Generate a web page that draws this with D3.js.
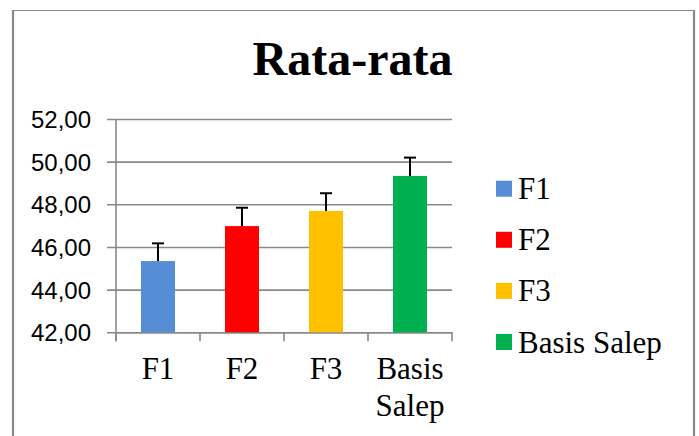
<!DOCTYPE html>
<html>
<head>
<meta charset="utf-8">
<script src="https://cdn.jsdelivr.net/npm/d3@7"></script>
<style>
  html, body { margin: 0; padding: 0; background: #fff; }
  svg { display: block; }
</style>
</head>
<body>
<svg id="chart" width="699" height="436"></svg>
<script>
const categories = ["F1", "F2", "F3", "Basis Salep"];
const axisLabels = [["F1"], ["F2"], ["F3"], ["Basis", "Salep"]];
const values = [45.34, 46.98, 47.69, 49.33];
const errors = [0.83, 0.86, 0.83, 0.86];
const colors = ["#558ED5", "#FF0000", "#FFC000", "#00B050"];
const yTicks = [42, 44, 46, 48, 50, 52];
const title = "Rata-rata";

const serif = "'Liberation Serif', 'Times New Roman', serif";
const sans = "'Liberation Sans', Arial, sans-serif";

const svg = d3.select("#chart");
const plot = { left: 116, right: 452, top: 119, bottom: 332.3 };
const gridColor = "#898989";

// outer border
svg.append("line").attr("x1", 12).attr("x2", 695).attr("y1", 10.5).attr("y2", 10.5)
  .attr("stroke", gridColor).attr("stroke-width", 1.2);
svg.append("line").attr("x1", 13).attr("x2", 13).attr("y1", 10).attr("y2", 436)
  .attr("stroke", gridColor).attr("stroke-width", 2.2);
svg.append("line").attr("x1", 694).attr("x2", 694).attr("y1", 10).attr("y2", 436)
  .attr("stroke", gridColor).attr("stroke-width", 2.2);

// title
svg.append("text")
  .attr("x", 352.5).attr("y", 75)
  .attr("text-anchor", "middle")
  .style("font-family", serif)
  .style("font-weight", "bold")
  .style("font-size", "48px")
  .text(title);

const x = d3.scaleBand().domain(categories).range([plot.left, plot.right]).paddingInner(0).paddingOuter(0);
const y = d3.scaleLinear().domain([42, 52]).range([plot.bottom, plot.top]);

// y axis with gridlines
const yAxis = d3.axisLeft(y)
  .tickValues(yTicks)
  .tickSize(-(plot.right - plot.left))
  .tickPadding(0)
  .tickFormat(d => d3.format(".2f")(d).replace(".", ","));
const gy = svg.append("g").attr("transform", `translate(${plot.left},0)`).call(yAxis);
gy.select(".domain").remove();
gy.selectAll(".tick line").attr("stroke", gridColor).attr("stroke-width", 1.6).attr("x1", -9);
gy.selectAll(".tick text")
  .attr("x", -25)
  .attr("dy", "0.35em")
  .attr("fill", "#000")
  .style("font-family", sans)
  .style("font-size", "24px");

// vertical axis line
svg.append("line").attr("x1", plot.left).attr("x2", plot.left)
  .attr("y1", plot.top).attr("y2", plot.bottom + 9)
  .attr("stroke", gridColor).attr("stroke-width", 1.6);

// x axis
const xAxis = d3.axisBottom(x).tickSize(0).tickFormat("");
const gx = svg.append("g").attr("transform", `translate(0,${plot.bottom})`).call(xAxis);
gx.select(".domain").attr("stroke", gridColor).attr("stroke-width", 1.6);
const boundaries = categories.map(c => x(c)).concat([x(categories[categories.length - 1]) + x.bandwidth()]);
gx.selectAll(".bound").data(boundaries).enter().append("line")
  .attr("x1", d => d).attr("x2", d => d).attr("y1", 0).attr("y2", 9)
  .attr("stroke", gridColor).attr("stroke-width", 1.6);

// x labels
categories.forEach((c, i) => {
  const t = svg.append("text")
    .attr("text-anchor", "middle")
    .style("font-family", serif)
    .style("font-size", "31px")
    .attr("fill", "#000");
  axisLabels[i].forEach((line, j) => {
    t.append("tspan").attr("x", x(c) + x.bandwidth() / 2).attr("y", 379 + j * 37).text(line);
  });
});

// bars
const barW = x.bandwidth() * 0.405;
svg.append("g").selectAll("rect").data(categories).enter().append("rect")
  .attr("x", c => x(c) + x.bandwidth() / 2 - barW / 2)
  .attr("width", barW)
  .attr("y", (c, i) => y(values[i]))
  .attr("height", (c, i) => y(42) - y(values[i]))
  .attr("fill", (c, i) => colors[i]);

// error bars (plus only)
const eg = svg.append("g");
categories.forEach((c, i) => {
  const cx = x(c) + x.bandwidth() / 2;
  eg.append("line").attr("x1", cx).attr("x2", cx)
    .attr("y1", y(values[i])).attr("y2", y(values[i] + errors[i]))
    .attr("stroke", "#000").attr("stroke-width", 2);
  eg.append("line").attr("x1", cx - 6).attr("x2", cx + 6)
    .attr("y1", y(values[i] + errors[i])).attr("y2", y(values[i] + errors[i]))
    .attr("stroke", "#000").attr("stroke-width", 2);
});

// legend
const lg = svg.append("g");
categories.forEach((c, i) => {
  const cy = 188.7 + i * 51.1;
  lg.append("rect").attr("x", 496).attr("y", cy - 8).attr("width", 16).attr("height", 16)
    .attr("fill", colors[i]);
  lg.append("text").attr("x", 518).attr("y", cy + 10.5)
    .style("font-family", serif)
    .style("font-size", "31px")
    .attr("fill", "#000")
    .text(c);
});
</script>
</body>
</html>
